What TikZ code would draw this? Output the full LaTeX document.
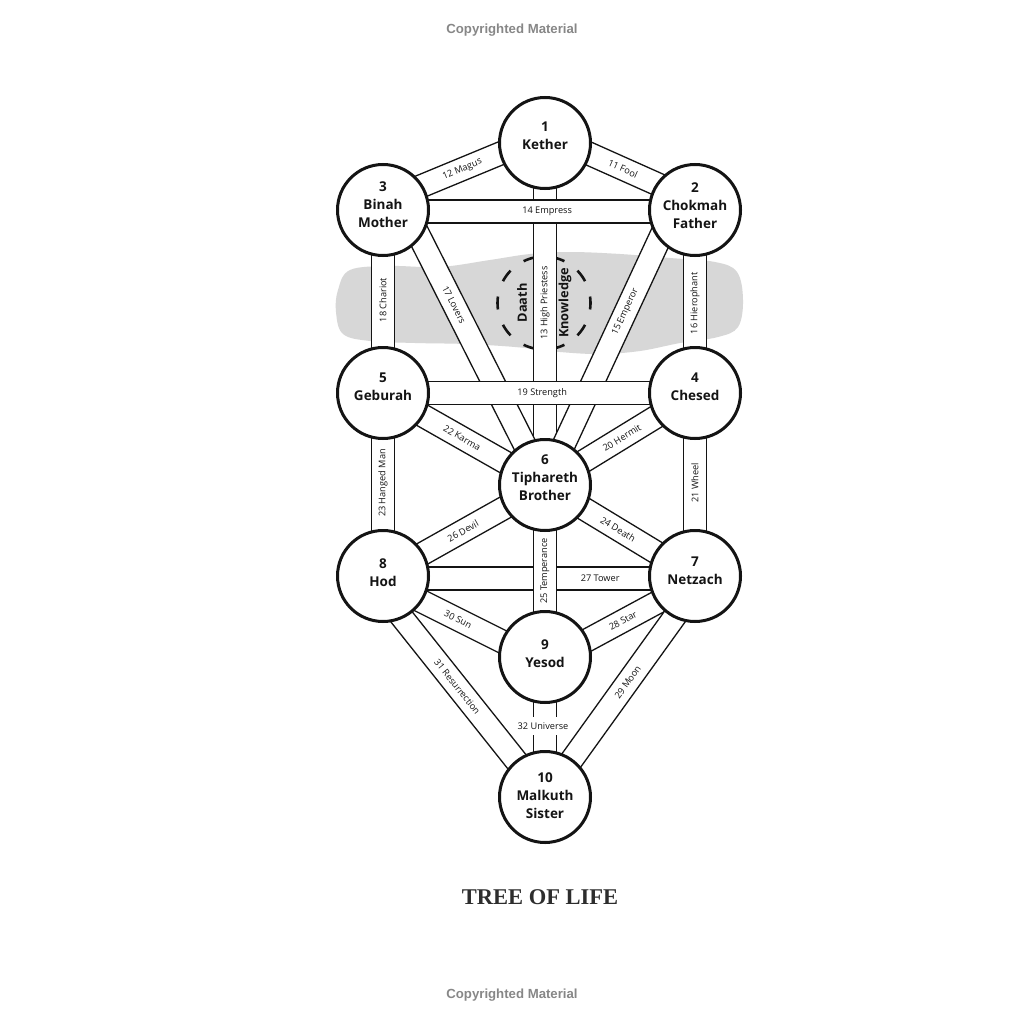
\documentclass[tikz,border=0pt]{standalone}
\usepackage{fontspec}
\setmainfont{Open Sans}
\newfontfamily\capfont{Liberation Serif}
\newfontfamily\copyfont{Liberation Sans}
\usetikzlibrary{calc}
\definecolor{cloudgray}{RGB}{215,215,215}
\definecolor{copygray}{RGB}{135,135,135}
\definecolor{inkblack}{RGB}{20,20,20}
\definecolor{titlegray}{RGB}{45,45,45}
\pgfdeclarelayer{cloudlayer}
\pgfdeclarelayer{bandlayer}
\pgfsetlayers{cloudlayer,bandlayer,main}
\tikzset{
  seph/.style={circle, draw=inkblack, line width=3pt, fill=white, minimum size=91pt,
    inner sep=0pt},
  sephlab/.style={align=center, inner sep=0pt, font=\bfseries\fontsize{13.5}{18}\selectfont, text=inkblack},
  bandedge/.style={draw=inkblack, line width=1.3pt, fill=white, line join=miter},
  bandlabel/.style={font=\fontsize{9.2}{10}\selectfont, inner sep=0pt, text=inkblack},
  daathdash/.style={draw=inkblack, line width=2.6pt},
  daathtext/.style={font=\bfseries\fontsize{12.8}{15}\selectfont, text=inkblack, inner sep=0pt},
  copytext/.style={font=\copyfont\bfseries\fontsize{13.2}{15}\selectfont, text=copygray},
  titletext/.style={font=\capfont\bfseries\fontsize{22.5}{26}\selectfont, text=titlegray}
}
% #1 start, #2 end, #3 pos, #4 label, #5 label name
\newcommand\tband[5]{%
  \filldraw[bandedge] ($#1!11.5pt!90:#2$) -- ($#2!11.5pt!-90:#1$) --
     ($#2!11.5pt!90:#1$) -- ($#1!11.5pt!-90:#2$) -- cycle;
  \path #1 -- #2 node[bandlabel, pos=#3, sloped] (#5) {#4};
}
\begin{document}
\begin{tikzpicture}[x=1pt,y=-1pt]
\useasboundingbox (0,0) rectangle (1024,1024);

% sephiroth
\node[seph, label={[sephlab, yshift=7pt]center:{1\\Kether}}] (K1) at (545,143) {};
\node[seph, label={[sephlab, yshift=5.5pt]center:{3\\Binah\\Mother}}] (B3) at (383,210) {};
\node[seph, label={[sephlab, yshift=4pt]center:{2\\Chokmah\\Father}}] (C2) at (695,210) {};
\node[seph, label={[sephlab, yshift=6pt]center:{5\\Geburah}}] (G5) at (383,393) {};
\node[seph, label={[sephlab, yshift=6pt]center:{4\\Chesed}}] (Ch4) at (695,393) {};
\node[seph, label={[sephlab, yshift=7.5pt]center:{6\\Tiphareth\\Brother}}] (T6) at (545,485) {};
\node[seph, label={[sephlab, yshift=3.5pt]center:{8\\Hod}}] (H8) at (383,576) {};
\node[seph, label={[sephlab, yshift=5pt]center:{7\\Netzach}}] (N7) at (695,576) {};
\node[seph, label={[sephlab, yshift=3pt]center:{9\\Yesod}}] (Y9) at (545,657) {};
\node[seph, label={[sephlab, yshift=1.5pt]center:{10\\Malkuth\\Sister}}] (M10) at (545,797) {};

% shifted path ends
\coordinate (b12) at ([yshift=8pt]B3.center);
\coordinate (k12) at ([yshift=8pt]K1.center);
\coordinate (k11) at ([yshift=9pt]K1.center);
\coordinate (c11) at ([yshift=9pt]C2.center);
\coordinate (b14) at ([yshift=-1.5pt]B3.center);
\coordinate (c14) at ([yshift=-1.5pt]C2.center);
\coordinate (b17) at ([xshift=23pt]B3.center);
\coordinate (c15) at ([xshift=-22pt]C2.center);
\coordinate (h27) at ([yshift=-2.5pt]H8.center);
\coordinate (n27) at ([yshift=-2.5pt]N7.center);
\coordinate (h30) at ([yshift=-6pt]H8.center);
\coordinate (y30) at ([yshift=-6pt]Y9.center);
\coordinate (n28) at ([yshift=-6pt]N7.center);
\coordinate (h31) at ([xshift=-14pt]H8.center);
\coordinate (n29) at ([xshift=9pt]N7.center);
\coordinate (D) at (544,303);

\begin{pgfonlayer}{cloudlayer}
  \fill[white] (0,0) rectangle (1024,1024);
  \fill[cloudgray] plot[smooth cycle, tension=0.6] coordinates {
    (338,290) (350,270) (390,266) (440,267) (490,260) (530,254) (570,252)
    (620,254) (670,258) (715,262) (737,272) (743,300) (738,327) (718,337)
    (680,343) (640,351) (600,354) (560,352) (515,347) (465,344) (415,343)
    (370,341) (343,334) (336,312)};
  \foreach \a in {0,36,...,324}
    \draw[daathdash] ($(D)+(\a-8:46.5)$) arc[start angle=\a-8, end angle=\a+8, radius=46.5];
\end{pgfonlayer}

\begin{pgfonlayer}{bandlayer}
  \tband{(T6.center)}{(K1.center)}{0.532}{13 High Priestess}{l13}
  \tband{(b17)}{(T6.center)}{0.345}{17 Lovers}{l17}
  \tband{(T6.center)}{(c15)}{0.629}{15 Emperor}{l15}
  \tband{(b12)}{(k12)}{0.49}{12 Magus}{l12}
  \tband{(k11)}{(c11)}{0.52}{11 Fool}{l11}
  \tband{(b14)}{(c14)}{0.526}{14 Empress}{l14}
  \tband{(G5.center)}{(B3.center)}{0.508}{18 Chariot}{l18}
  \tband{(Ch4.center)}{(C2.center)}{0.49}{16 Hierophant}{l16}
  \tband{(G5.center)}{(T6.center)}{0.488}{22 Karma}{l22}
  \tband{(T6.center)}{(Ch4.center)}{0.513}{20 Hermit}{l20}
  \tband{(G5.center)}{(Ch4.center)}{0.51}{19 Strength}{l19}
  \tband{(H8.center)}{(G5.center)}{0.508}{23 Hanged Man}{l23}
  \tband{(N7.center)}{(Ch4.center)}{0.508}{21 Wheel}{l21}
  \tband{(H8.center)}{(T6.center)}{0.494}{26 Devil}{l26}
  \tband{(T6.center)}{(N7.center)}{0.487}{24 Death}{l24}
  \tband{(h27)}{(n27)}{0.696}{27 Tower}{l27}
  \tband{(Y9.center)}{(T6.center)}{0.5}{25 Temperance}{l25}
  \tband{(h30)}{(y30)}{0.463}{30 Sun}{l30}
  \tband{(y30)}{(n28)}{0.52}{28 Star}{l28}
  \tband{(h31)}{(M10.center)}{0.502}{31 Resurrection}{l31}
  \tband{(M10.center)}{(n29)}{0.52}{29 Moon}{l29}
  \filldraw[bandedge] ($(Y9.center)!11.5pt!90:(M10.center)$) -- ($(M10.center)!11.5pt!-90:(Y9.center)$) --
     ($(M10.center)!11.5pt!90:(Y9.center)$) -- ($(Y9.center)!11.5pt!-90:(M10.center)$) -- cycle;
  \node[bandlabel, fill=white, inner xsep=1pt, inner ysep=6pt] (l32) at (543,726) {32 Universe};
\end{pgfonlayer}

\node[daathtext, rotate=90] (daathlbl) at (522,303) {Daath};
\node[daathtext, rotate=90] (knowlbl) at (565,303) {Knowledge};

\node[titletext] (title) at (540,897) {TREE OF LIFE};
\node[copytext] (cptop) at (512,30) {Copyrighted Material};
\node[copytext] (cpbot) at (512,995) {Copyrighted Material};
\end{tikzpicture}
\end{document}
